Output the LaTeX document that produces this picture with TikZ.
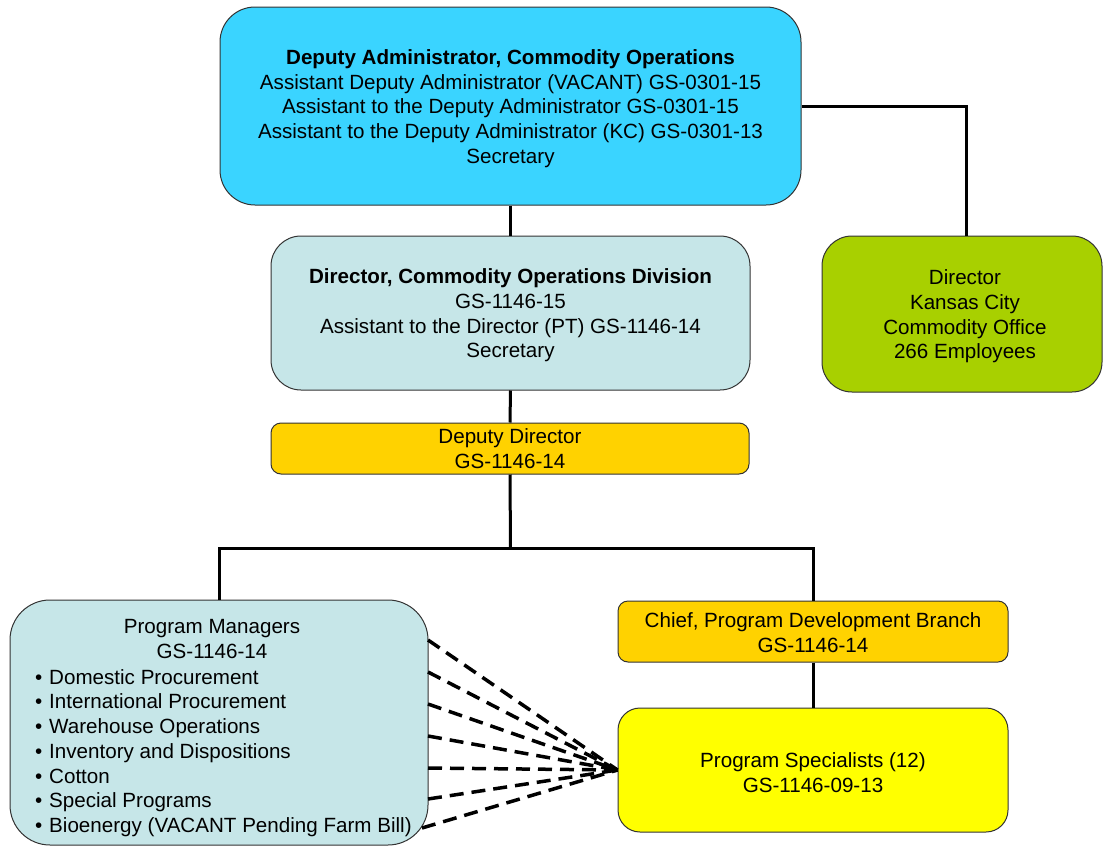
\documentclass[tikz,border=0pt]{standalone}
\usepackage{fontspec}
\setmainfont{Liberation Sans}
\usetikzlibrary{calc}
\definecolor{adminblue}{RGB}{58,212,255}
\definecolor{divblue}{RGB}{198,230,232}
\definecolor{kcgreen}{RGB}{168,208,0}
\definecolor{gold}{RGB}{255,210,0}
\definecolor{brightyellow}{RGB}{255,255,0}
\tikzset{
  orgbox/.style={draw=black!80, line width=1pt, inner sep=0pt, align=center,
    font=\fontsize{20.6}{24.7}\selectfont},
  link/.style={draw=black, line width=3pt},
  dotlink/.style={draw=black, line width=3.5pt, dash pattern=on 14pt off 8pt},
  plain/.style={inner sep=0pt, font=\fontsize{20.6}{24.7}\selectfont}
}
% strut on a box's first line, which sets its text block a little lower
\newcommand{\tp}{\rule{0pt}{20pt}}
\newcommand{\bul}[1]{\makebox[14pt][l]{•}#1}
\begin{document}
\begin{tikzpicture}[x=1pt,y=-1pt]
\useasboundingbox (0,0) rectangle (1103,846);

% boxes
\node[orgbox, fill=adminblue, rounded corners=35pt, minimum width=581pt, minimum height=198pt]
  (admin) at (510.5,106) {\tp\textbf{Deputy Administrator, Commodity Operations}\\
  Assistant Deputy Administrator (VACANT) GS-0301-15\\
  Assistant to the Deputy Administrator GS-0301-15\\
  Assistant to the Deputy Administrator (KC) GS-0301-13\\
  Secretary};

\node[orgbox, fill=divblue, rounded corners=30pt, minimum width=479pt, minimum height=154pt]
  (dir) at (510.5,313) {\tp\textbf{Director, Commodity Operations Division}\\
  GS-1146-15\\
  Assistant to the Director (PT) GS-1146-14\\
  Secretary};

\node[orgbox, fill=kcgreen, rounded corners=30pt, minimum width=280pt, minimum height=156pt]
  (kc) at (962,314) {\tp\hspace*{6pt}Director\\\hspace*{6pt}Kansas City\\\hspace*{6pt}Commodity Office\\\hspace*{6pt}266 Employees};

\node[orgbox, fill=gold, rounded corners=10pt, minimum width=478pt, minimum height=51pt]
  (dep) at (510,448.5) {Deputy Director\\GS-1146-14};

\node[orgbox, fill=divblue, rounded corners=40pt, minimum width=418pt, minimum height=245pt]
  (pm) at (219,722.5) {};
\node[plain, align=center] (pmtitle) at (212,639) {Program Managers\\GS-1146-14};
\node[plain, align=left, anchor=west] (pmlist) at (35,753) {%
  \bul{Domestic Procurement}\\
  \bul{International Procurement}\\
  \bul{Warehouse Operations}\\
  \bul{Inventory and Dispositions}\\
  \bul{Cotton}\\
  \bul{Special Programs}\\
  \bul{Bioenergy (VACANT Pending Farm Bill)}};

\node[orgbox, fill=gold, rounded corners=10pt, minimum width=390pt, minimum height=61pt]
  (chief) at (813,631.5) {\rule{0pt}{17pt}Chief, Program Development Branch\\GS-1146-14};

\node[orgbox, fill=brightyellow, rounded corners=22pt, minimum width=390pt, minimum height=124pt]
  (spec) at (813,770) {\tp Program Specialists (12)\\GS-1146-09-13};

% reporting lines
\coordinate (bus) at (510.5,548);
\coordinate (kctop) at ($(kc.north)+(4,0)$);
\draw[link] (admin.south) -- (dir.north);
\draw[link] (dir.south) -- (dep.north);
\draw[link] (dep.south) -- (bus);
\draw[link] (pm.north) |- (bus) -| (chief.north);
\draw[link] (chief.south) -- (spec.north);
\draw[link] (admin.east) -| (kctop);

% dashed links from each program area to the specialists
\coordinate (d1) at (428,640);
\coordinate (d2) at (428,672);
\coordinate (d3) at (428,704);
\coordinate (d4) at (428,736);
\coordinate (d5) at (428,768);
\coordinate (d6) at (428,799);
\coordinate (d7) at (422,828);
\foreach \p in {d1,d2,d3,d4,d5,d6,d7}
  \draw[dotlink] (\p) -- (spec.west);
\end{tikzpicture}
\end{document}
